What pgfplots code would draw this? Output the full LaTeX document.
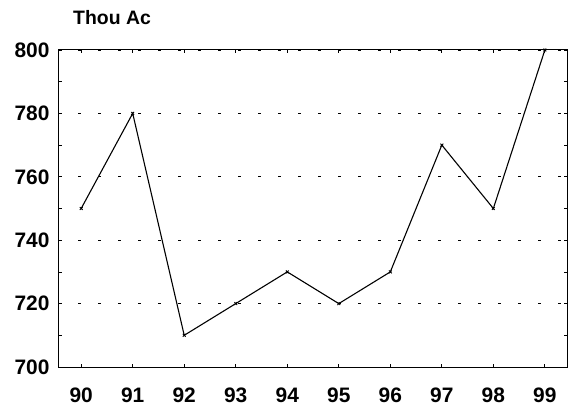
\documentclass[border=0pt]{standalone}
\usepackage{pgfplots}
\pgfplotsset{compat=1.18}
\usepackage{fontspec}
\setmainfont{Liberation Sans}
\begin{document}
\begin{tikzpicture}[x=1bp,y=1bp]
\path (0,0) rectangle (572,404);
\begin{axis}[
  at={(58bp,37bp)}, anchor=south west,
  scale only axis, width=509bp, height=317bp,
  xmin=89.55, xmax=99.43, ymin=700, ymax=800,
  xtick={90,...,99},
  ytick={700,720,...,800},
  minor ytick={710,730,...,790},
  tick align=inside,
  major tick length=3.5bp, minor tick length=3.5bp,
  xtick style={black, line width=0.8pt},
  ytick style={black, line width=0.8pt},
  axis line style={black, line width=1pt},
  ymajorgrids,
  major grid style={black, line width=0.7pt, dash pattern=on 3bp off 17bp},
  font=\fontsize{21}{23}\bfseries,
  xticklabel style={yshift=-17bp},
  yticklabel style={xshift=-5bp},
  /pgf/number format/assume math mode=true,
  /pgf/number format/1000 sep={},
  clip=false,
]
\addplot[black, line width=1.1pt, mark=x, mark size=2bp, mark options={line width=0.9pt}]
  coordinates {
  (90,750) (91,780) (92,710) (93,720) (94,730)
  (95,720) (96,730) (97,770) (98,750) (99,800)
  };
\end{axis}
\node[font=\fontsize{19.5}{21}\bfseries, anchor=base west, inner sep=0pt] at (73bp,379bp) {Thou Ac};
\end{tikzpicture}
\end{document}
